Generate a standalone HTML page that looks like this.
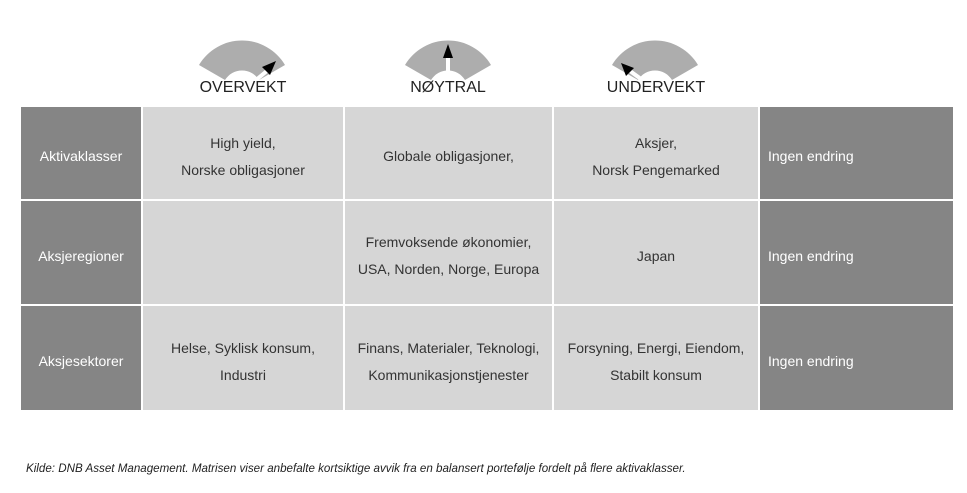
<!DOCTYPE html>
<html><head><style>
body{margin:0;width:967px;height:493px;background:#fff;position:relative;font-family:"Liberation Sans",sans-serif;overflow:hidden}
.c{position:absolute;display:flex;flex-direction:column;justify-content:center;align-items:center;font-size:14px;color:#333;line-height:27px;text-align:center;background:#d6d6d6;padding-top:7px;box-sizing:border-box}
.d{background:#858585;color:#fff}
.l{align-items:flex-start;padding-left:8px}
.h{position:absolute;top:79px;font-size:16px;color:#222;width:200px;text-align:center}
</style></head><body>
<svg width="967" height="110" style="position:absolute;left:0;top:0">
<g fill="#adadad">
<path d="M199,65 A50,50 0 0 1 285,65 L259,80 A20,20 0 0 0 225,80Z"/>
<path d="M405,65 A50,50 0 0 1 491,65 L465,80 A20,20 0 0 0 431,80Z"/>
<path d="M612,65 A50,50 0 0 1 698,65 L672,80 A20,20 0 0 0 638,80Z"/>
</g>
<line x1="256" y1="80" x2="268" y2="70" stroke="#fff" stroke-width="4"/>
<polygon points="276,61 262,67 270,75" fill="#000"/>
<line x1="448" y1="72" x2="448" y2="58" stroke="#fff" stroke-width="4"/>
<polygon points="448,44 443,58 453,58" fill="#000"/>
<line x1="641" y1="79" x2="630" y2="71" stroke="#fff" stroke-width="4"/>
<polygon points="621,63 626,76 634,68" fill="#000"/>
</svg>
<div class="h" style="left:143px">OVERVEKT</div>
<div class="h" style="left:348px">NØYTRAL</div>
<div class="h" style="left:556px">UNDERVEKT</div>

<div class="c d" style="left:21px;top:107px;width:120px;height:92px">Aktivaklasser</div>
<div class="c" style="left:143px;top:107px;width:200px;height:92px">High yield,<br>Norske obligasjoner</div>
<div class="c" style="left:345px;top:107px;width:207px;height:92px">Globale obligasjoner,</div>
<div class="c" style="left:554px;top:107px;width:204px;height:92px">Aksjer,<br>Norsk Pengemarked</div>
<div class="c d l" style="left:760px;top:107px;width:193px;height:92px">Ingen endring</div>

<div class="c d" style="left:21px;top:201px;width:120px;height:103px">Aksjeregioner</div>
<div class="c" style="left:143px;top:201px;width:200px;height:103px"></div>
<div class="c" style="left:345px;top:201px;width:207px;height:103px">Fremvoksende økonomier,<br>USA, Norden, Norge, Europa</div>
<div class="c" style="left:554px;top:201px;width:204px;height:103px">Japan</div>
<div class="c d l" style="left:760px;top:201px;width:193px;height:103px">Ingen endring</div>

<div class="c d" style="left:21px;top:306px;width:120px;height:104px">Aksjesektorer</div>
<div class="c" style="left:143px;top:306px;width:200px;height:104px">Helse, Syklisk konsum,<br>Industri</div>
<div class="c" style="left:345px;top:306px;width:207px;height:104px">Finans, Materialer, Teknologi,<br>Kommunikasjonstjenester</div>
<div class="c" style="left:554px;top:306px;width:204px;height:104px">Forsyning, Energi, Eiendom,<br>Stabilt konsum</div>
<div class="c d l" style="left:760px;top:306px;width:193px;height:104px">Ingen endring</div>

<div style="position:absolute;left:26px;top:462px;font-size:11.6px;font-style:italic;color:#222">Kilde: DNB Asset Management. Matrisen viser anbefalte kortsiktige avvik fra en balansert portefølje fordelt på flere aktivaklasser.</div>
</body></html>
